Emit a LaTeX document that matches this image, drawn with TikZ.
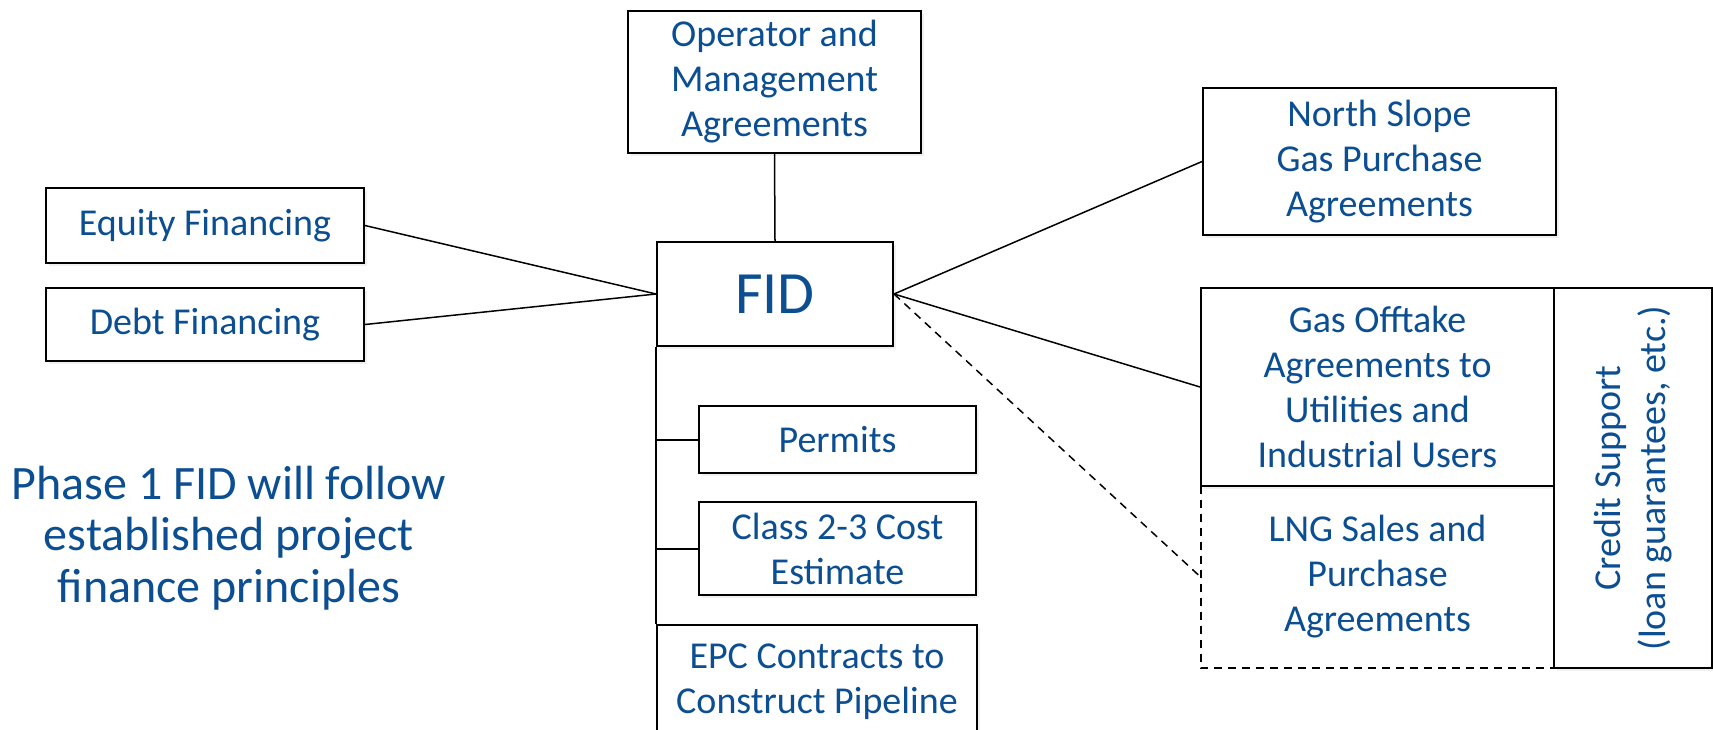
\documentclass[tikz,border=0pt]{standalone}
\usepackage{fontspec}
\setmainfont{Carlito}
\usetikzlibrary{shadows}
\definecolor{fidblue}{RGB}{12,78,146}
\begin{document}
\begin{tikzpicture}[x=0.5pt, y=-0.5pt,
  txt/.style = {shape=rectangle, align=center, inner sep=0pt,
    text=fidblue, font=\fontsize{19}{22.5}\selectfont},
  box/.style = {txt, draw, line width=1pt, fill=white,
    drop shadow={opacity=.12, shadow xshift=1.5pt, shadow yshift=-1.5pt}},
  link/.style = {line width=0.75pt}
  ]
  \useasboundingbox (0,0) rectangle (1713,729);
  % centre
  \node[box, minimum width=118pt, minimum height=52pt,
    font=\fontsize{30}{36}\selectfont] (fid) at (775,294) {FID};
  % top
  \node[box, minimum width=146.5pt, minimum height=71pt] (oper) at (774.5,82)
    {Operator and\\Management\\Agreements};
  % left side
  \node[box, minimum width=159pt, minimum height=37.5pt] (equity) at (205,225.5)
    {Equity Financing};
  \node[box, minimum width=159pt, minimum height=36.5pt] (debt) at (205,324.5)
    {Debt Financing};
  \node[txt, font=\fontsize{24}{25.8}\selectfont] (phase) at (229,538)
    {Phase 1 FID will follow\\established project\\finance principles};
  % below
  \node[box, minimum width=138.5pt, minimum height=33.5pt] (permits) at (837.5,439.5)
    {Permits};
  \node[box, minimum width=138.5pt, minimum height=46.5pt] (class) at (837.5,548.5)
    {Class 2-3 Cost\\Estimate};
  \node[box, minimum width=160pt, minimum height=57pt] (epc) at (817,682)
    {EPC Contracts to\\Construct Pipeline};
  % right side
  \node[box, minimum width=176.5pt, minimum height=73.5pt] (north) at (1379.5,161.5)
    {North Slope\\Gas Purchase\\Agreements};
  \node[txt, minimum width=176.5pt, minimum height=91pt] (lng) at (1377.5,577)
    {LNG Sales and\\Purchase\\Agreements};
  \node[box, minimum width=176.5pt, minimum height=99pt] (offtake) at (1377.5,387)
    {Gas Offtake\\Agreements to\\Utilities and\\Industrial Users};
  \node[box, minimum width=79pt, minimum height=190pt] (credit) at (1633,478) {};
  \node[txt, rotate=90] (creditlbl) at (credit.center)
    {Credit Support\\(loan guarantees, etc.)};
  % connectors
  \draw[link] (oper.south) -- (fid.north);
  \draw[link] (equity.east) -- (fid.west);
  \draw[link] (debt.east) -- (fid.west);
  \draw[link] (north.west) -- (fid.east);
  \draw[link] (offtake.west) -- (fid.east);
  \draw[link, dash pattern=on 4pt off 3pt] (fid.east) -- (lng.west);
  \draw[link, line width=1pt] (fid.south west) -- (epc.north west);
  \draw[link, line width=1pt] (permits.west) -- (permits.west -| fid.west);
  \draw[link, line width=1pt] (class.west) -- (class.west -| fid.west);
  \draw[line width=1pt, dash pattern=on 4pt off 3pt]
    (lng.north west) -- (lng.south west) -- (lng.south east);
\end{tikzpicture}
\end{document}
